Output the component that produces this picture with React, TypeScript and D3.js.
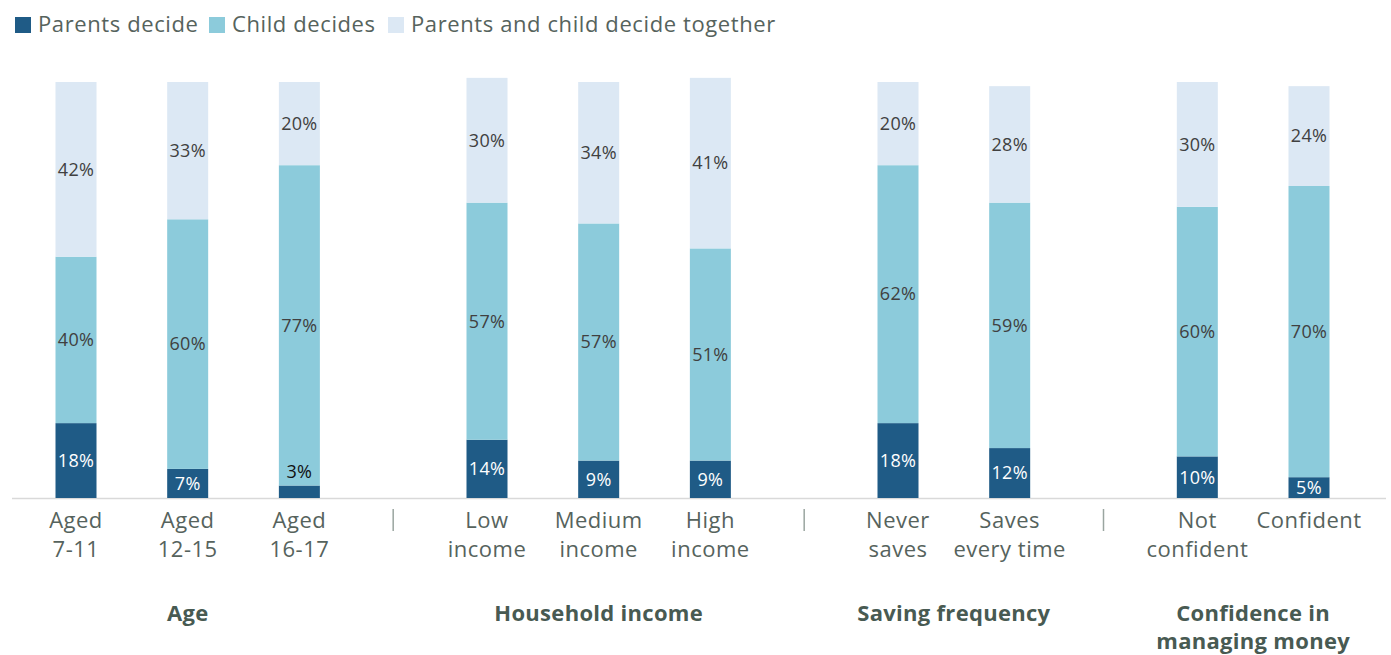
import React from "react";
import * as d3 from "d3";

const groups = ["Age", "Household income", "Saving frequency", "Confidence in managing money"];
const groupLines = [["Age"], ["Household income"], ["Saving frequency"], ["Confidence in", "managing money"]];
const categories = [
  ["Aged", "7-11"], ["Aged", "12-15"], ["Aged", "16-17"],
  ["Low", "income"], ["Medium", "income"], ["High", "income"],
  ["Never", "saves"], ["Saves", "every time"],
  ["Not", "confident"], ["Confident"],
];
const groupOf = [0, 0, 0, 1, 1, 1, 2, 2, 3, 3];
const seriesNames = ["Parents decide", "Child decides", "Parents and child decide together"];
const parentsDecide = [18, 7, 3, 14, 9, 9, 18, 12, 10, 5];
const childDecides = [40, 60, 77, 57, 57, 51, 62, 59, 60, 70];
const together = [42, 33, 20, 30, 34, 41, 20, 28, 30, 24];

const colors = ["#1f5b86", "#8ccbdb", "#dce8f4"];
const W = 1391;
const H = 655;
const font = "'Open Sans', Lato, sans-serif";
const GROUP_GAP = 0.68;

export default function App() {
  const slot = categories.map((_, i) => i + groupOf[i] * GROUP_GAP);
  const x = d3.scaleLinear().domain([0, d3.max(slot)!]).range([76, 1309]);
  const y = d3.scaleLinear().domain([0, 100]).range([498, 82]);
  const barW = 41;

  const rows = categories.map((_, i) => ({
    i,
    s0: parentsDecide[i],
    s1: childDecides[i],
    s2: together[i],
  }));
  const stack = d3.stack<any>().keys(["s0", "s1", "s2"])(rows);

  const seps = groups.slice(1).map((_, g) => {
    const last = d3.max(slot.filter((_, i) => groupOf[i] === g))!;
    const first = d3.min(slot.filter((_, i) => groupOf[i] === g + 1))!;
    return x((last + first) / 2);
  });
  const groupCenters = groups.map((_, g) => {
    const s = slot.filter((_, i) => groupOf[i] === g);
    return x((d3.min(s)! + d3.max(s)!) / 2);
  });

  const legendX = [15, 209, 388];

  return (
    <svg width={W} height={H} style={{ position: "absolute", left: 0, top: 0, fontFamily: font }}>
      {seriesNames.map((n, k) => (
        <g key={n} transform={`translate(${legendX[k]},17)`}>
          <rect width={16} height={16} fill={colors[k]} />
          <text x={23} y={15} fontSize={22} letterSpacing={0.6} fill="#56635d">{n}</text>
        </g>
      ))}
      <line x1={12} x2={1386} y1={498.5} y2={498.5} stroke="#d9d9d9" strokeWidth={1.5} />
      {stack.map((layer, k) => (
        <g key={k}>
          {layer.map((d, i) => (
            <rect key={i} x={x(slot[i]) - barW / 2} width={barW} y={y(d[1])} height={y(d[0]) - y(d[1])} fill={colors[k]} />
          ))}
        </g>
      ))}
      {stack.map((layer, k) => (
        <g key={"t" + k}>
          {layer.map((d, i) => {
            const v = d[1] - d[0];
            const small = y(d[0]) - y(d[1]) < 20;
            const cy = small ? y(d[1]) - 14 : (y(d[0]) + y(d[1])) / 2;
            return (
              <text key={i} x={x(slot[i])} y={cy} dy="0.35em" textAnchor="middle" fontSize={18} letterSpacing={0.3}
                fill={k === 0 && !small ? "#ffffff" : small ? "#111" : "#404040"}>
                {v}%
              </text>
            );
          })}
        </g>
      ))}
      {categories.map((lines, i) => (
        <text key={i} x={x(slot[i])} textAnchor="middle" fontSize={22} letterSpacing={0.5} fill="#56635d">
          {lines.map((l, j) => (
            <tspan key={j} x={x(slot[i])} y={528 + j * 29}>{l}</tspan>
          ))}
        </text>
      ))}
      {seps.map((sx, i) => (
        <line key={i} x1={sx} x2={sx} y1={509} y2={531} stroke="#9aa5a0" strokeWidth={1.5} />
      ))}
      {groupLines.map((lines, g) => (
        <text key={g} textAnchor="middle" fontSize={22} letterSpacing={0.3} fontWeight={700} fill="#485a52">
          {lines.map((l, j) => (
            <tspan key={j} x={groupCenters[g]} y={621 + j * 28}>{l}</tspan>
          ))}
        </text>
      ))}
    </svg>
  );
}
